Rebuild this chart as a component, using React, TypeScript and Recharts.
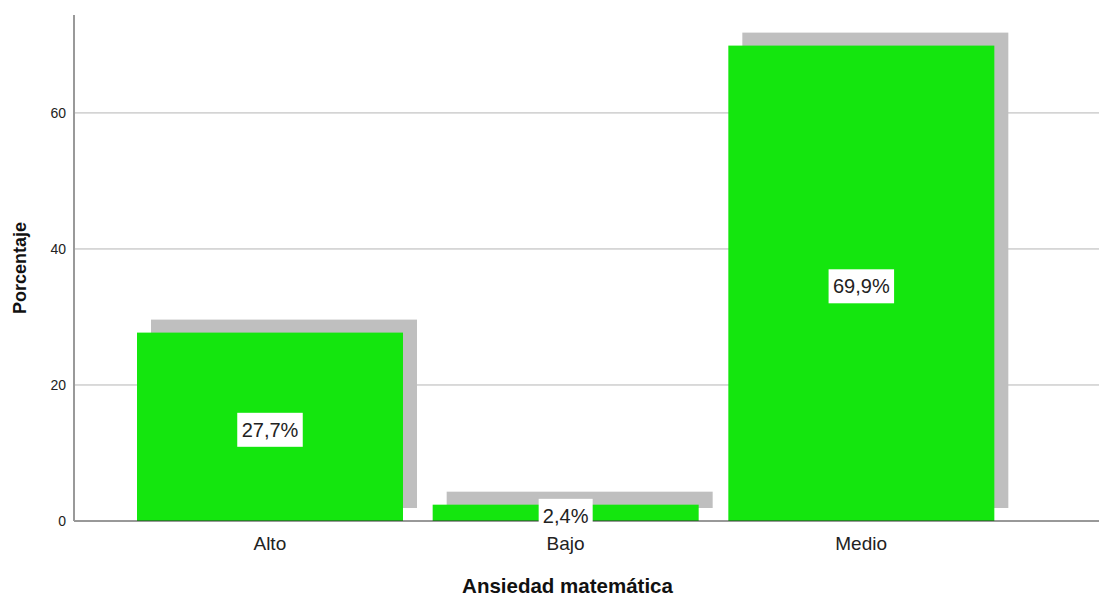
import { BarChart, Bar, XAxis, YAxis, CartesianGrid, LabelList } from 'recharts';

const categories = ['Alto', 'Bajo', 'Medio'];
const percentages = [27.7, 2.4, 69.9];
const percentLabels = ['27,7%', '2,4%', '69,9%'];
const yTicks = [0, 20, 40, 60];
const yMax = 74.4;

const data = categories.map((name, i) => ({ name, value: percentages[i], label: percentLabels[i] }));

const FONT = '"Liberation Sans", Arial, sans-serif';

const ShadowBar = (props: any) => {
  const { x, y, width, height } = props;
  return (
    <g>
      <rect x={x + 14} y={y - 13} width={width} height={height} fill="#bfbfbf" />
      <rect x={x} y={y} width={width} height={height} fill="#14e60e" />
    </g>
  );
};

const BoxLabel = (props: any) => {
  const { x, y, width, height, value } = props;
  const cx = x + width / 2;
  const cy = y + height / 2 + 3;
  const w = String(value).length * 11.5 + 8;
  return (
    <g>
      <rect x={cx - w / 2} y={cy - 17} width={w} height={34} fill="#ffffff" />
      <text x={cx} y={cy + 7} textAnchor="middle" fontFamily={FONT} fontSize={20} fill="#222">
        {value}
      </text>
    </g>
  );
};

// grid rows only at the labelled ticks (no line at the top of the plot)
const gridRows = (props: any) => {
  const s = props?.yAxis?.scale;
  const off = props?.offset;
  return yTicks
    .filter((t) => t > 0)
    .map((t) => {
      if (typeof s === 'function') return s(t);
      if (s && typeof s.map === 'function') return s.map(t);
      return off.top + off.height * (1 - t / yMax);
    });
};

export default function App() {
  return (
    <div style={{ position: 'absolute', left: 0, top: 0, background: '#fff' }}>
      <BarChart width={1099} height={597} data={data} margin={{ top: 15, right: 0, bottom: 0, left: 0 }}>
        <CartesianGrid vertical={false} stroke="#b5b5b5" horizontalCoordinatesGenerator={gridRows} />
        <XAxis
          dataKey="name"
          height={76}
          padding={{ left: 48, right: 90 }}
          tickLine={false}
          axisLine={{ stroke: '#333' }}
          tickMargin={10}
          tick={{ fontFamily: FONT, fontSize: 19, fill: '#222' }}
          label={{
            value: 'Ansiedad matemática',
            position: 'insideBottom',
            offset: 4,
            dx: -19,
            style: { fontFamily: FONT, fontSize: 20.5, fontWeight: 'bold', fill: '#111' },
          }}
        />
        <YAxis
          width={74}
          domain={[0, yMax]}
          ticks={yTicks}
          tickLine={false}
          axisLine={{ stroke: '#999', strokeWidth: 2 }}
          tickMargin={2}
          tick={{ fontFamily: FONT, fontSize: 14, fill: '#222' }}
          label={{
            value: 'Porcentaje',
            angle: -90,
            position: 'insideLeft',
            offset: 20,
            style: { textAnchor: 'middle', fontFamily: FONT, fontSize: 18, fontWeight: 'bold', fill: '#111' },
          }}
        />
        <Bar dataKey="value" barSize={266} shape={<ShadowBar />} isAnimationActive={false}>
          <LabelList dataKey="label" content={<BoxLabel />} />
        </Bar>
      </BarChart>
    </div>
  );
}
